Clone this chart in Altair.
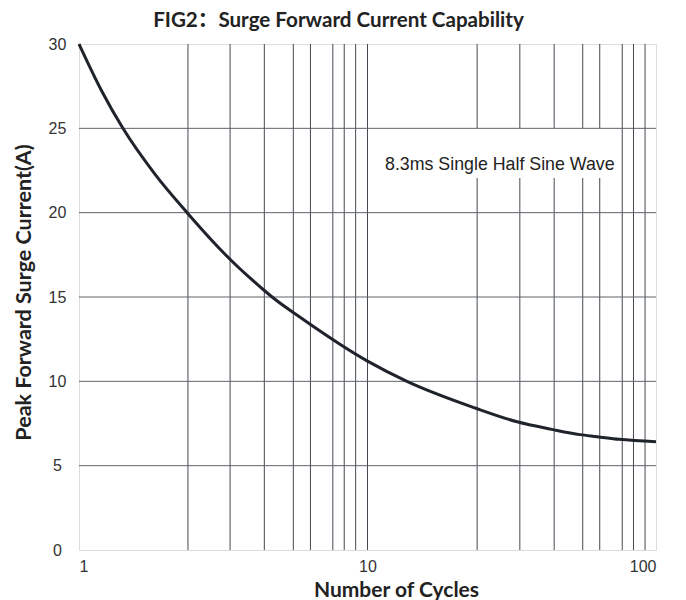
import altair as alt
import pandas as pd

# Curve: (number of cycles, peak forward surge current A)
cycles = [1.0, 1.2, 1.42, 1.83, 2.37, 3.31, 4.38, 4.67, 5.84, 10.0, 13.7, 23.6, 33.0, 43.6, 54.5, 62.5, 74.4, 100.0]
current = [30.0, 27.2, 25.0, 22.3, 20.0, 17.3, 15.4, 15.0, 13.8, 11.2, 10.0, 8.42, 7.6, 7.15, 6.84, 6.72, 6.56, 6.42]

# Vertical grid lines as drawn in the datasheet
vgrid = [2.386, 3.339, 4.389, 5.532, 6.342, 7.583, 8.305, 9.097, 10.0,
         23.99, 33.73, 44.36, 55.72, 63.83, 76.38, 83.56, 91.62]
hgrid = [5, 10, 15, 20, 25]
y_ticks = [0, 5, 10, 15, 20, 25, 30]
x_ticks = [1, 10, 100]

note_text = ["8.3ms Single Half Sine Wave"]
note_x = [11.5]
note_y = [22.8]
box_x = [10.37]
box_x2 = [72.7]
box_y = [22.05]
box_y2 = [25.0]

curve_df = pd.DataFrame({"cycles": cycles, "current": current})
vgrid_df = pd.DataFrame({"cycles": vgrid})
hgrid_df = pd.DataFrame({"current": hgrid})
note_df = pd.DataFrame({"text": note_text, "x": note_x, "y": note_y})
box_df = pd.DataFrame({"x": box_x, "x2": box_x2, "y": box_y, "y2": box_y2})

TITLE_FONT = "Lato, 'Noto Sans CJK SC'"
LABEL_FONT = "Liberation Sans"

xscale = alt.Scale(type="log", domain=[1, 100], nice=False)
yscale = alt.Scale(domain=[0, 30], nice=False)

xaxis = alt.Axis(
    values=x_ticks, format="d", title="Number of Cycles", grid=False, ticks=False,
    domain=False, labelFont=LABEL_FONT, labelFontSize=16, labelColor="#333333",
    labelPadding=8, labelFlush=True, titleFont=TITLE_FONT, titleFontSize=21,
    titleFontWeight="bold", titleColor="#222222", titleX=317, titleY=46,
    titleBaseline="alphabetic", titleAnchor="middle", titleAlign="center",
)
yaxis = alt.Axis(
    values=y_ticks, title="Peak Forward Surge Current(A)", grid=False, ticks=False,
    domain=False, labelFont=LABEL_FONT, labelFontSize=16, labelColor="#333333",
    labelPadding=22, labelAlign="center", titleFont=TITLE_FONT, titleFontSize=21.5,
    titleFontWeight="bold", titleColor="#222222", titleX=-49, titleY=248,
    titleBaseline="alphabetic", titleAngle=270, titleAlign="center", titleAnchor="middle",
)

vlines = alt.Chart(vgrid_df).mark_rule(color="#454a52", strokeWidth=1).encode(
    x=alt.X("cycles:Q", scale=xscale, axis=xaxis)
)

box = alt.Chart(box_df).mark_rect(color="white").encode(
    x=alt.X("x:Q", scale=xscale, axis=xaxis),
    x2="x2:Q",
    y=alt.Y("y:Q", scale=yscale, axis=yaxis),
    y2="y2:Q",
)

hlines = alt.Chart(hgrid_df).mark_rule(color="#5f646b", strokeWidth=1).encode(
    y=alt.Y("current:Q", scale=yscale, axis=yaxis)
)

curve = alt.Chart(curve_df).mark_line(
    color="#1f232b", strokeWidth=3, interpolate="monotone"
).encode(
    x=alt.X("cycles:Q", scale=xscale, axis=xaxis),
    y=alt.Y("current:Q", scale=yscale, axis=yaxis),
)

note = alt.Chart(note_df).mark_text(
    font=LABEL_FONT, fontSize=17.8, color="#222222", align="left", baseline="middle"
).encode(
    x=alt.X("x:Q", scale=xscale, axis=xaxis),
    y=alt.Y("y:Q", scale=yscale, axis=yaxis),
    text="text:N",
)

chart = alt.layer(vlines, box, hlines, curve, note).properties(
    width=577,
    height=506,
    title=alt.TitleParams(
        text="FIG2：Surge Forward Current Capability",
        font=TITLE_FONT, fontSize=20.6, fontWeight="bold", color="#222222",
        anchor="middle", dx=-29, frame="group", offset=4,
    ),
    autosize=alt.AutoSizeParams(type="none"),
    padding={"left": 71, "top": 36, "right": 20, "bottom": 52},
).configure_view(stroke="#2a2e35", strokeWidth=1.2).configure(background="white")

chart.save("out.html", embed_options={"renderer": "svg", "actions": False})
